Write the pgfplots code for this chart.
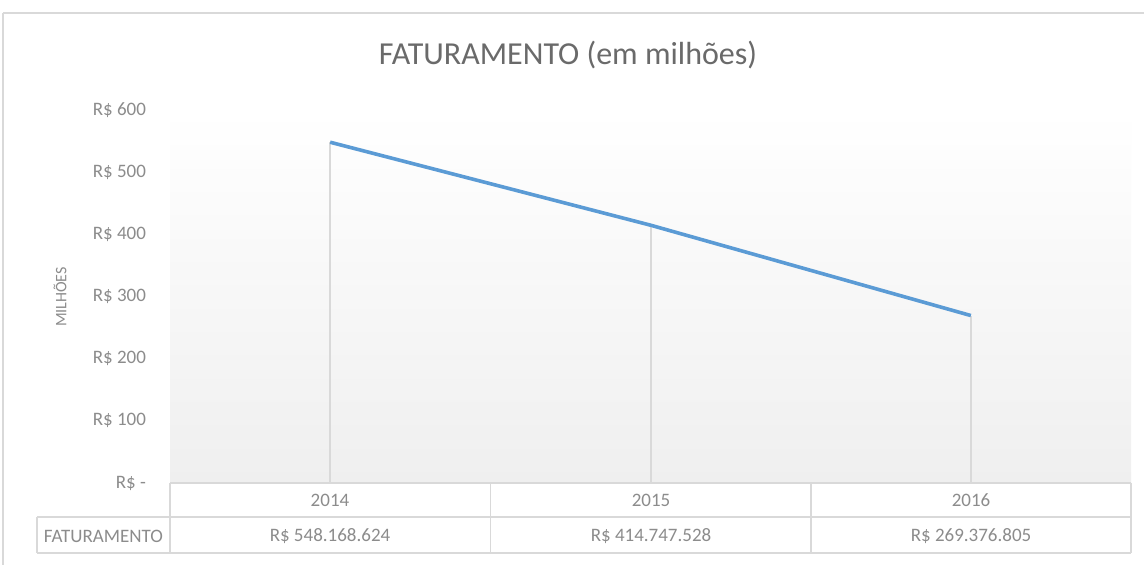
\documentclass[border=0pt]{standalone}
\usepackage{pgfplots}
\pgfplotsset{compat=1.18}
\usepackage{fontspec}
\setmainfont{Carlito}
\definecolor{linecol}{HTML}{5B9BD5}
\definecolor{titlecol}{HTML}{6A6A6A}
\definecolor{tickcol}{HTML}{8C8C8C}
\definecolor{gridcol}{HTML}{D9D9D9}
\definecolor{bgbottom}{HTML}{EFEFEF}
\begin{document}
\begin{tikzpicture}
\useasboundingbox (0pt,0pt) rectangle (572pt,-282.5pt);
\fill[white] (0pt,0pt) rectangle (572pt,-282.5pt);
\begin{axis}[
  at={(85pt,-241.5pt)}, anchor=south west,
  scale only axis, width=480.5pt, height=186.5pt,
  xmin=-0.5, xmax=2.5, ymin=0, ymax=600,
  xtick=\empty,
  ytick={0,100,200,300,400,500,600},
  yticklabels={R\$ -\hspace{4pt}, R\$ 100, R\$ 200, R\$ 300, R\$ 400, R\$ 500, R\$ 600},
  yticklabel style={font=\fontsize{9.5}{11}\selectfont, text=tickcol, xshift=-8.5pt},
  major tick length=0pt,
  axis line style={draw=none},
  axis background/.style={top color=white, bottom color=bgbottom},
  clip=false,
]
\addplot[ycomb, draw=gridcol, line width=1pt, mark=none] coordinates {(0,548.168624) (1,414.747528) (2,269.376805)};
\addplot[draw=linecol, line width=1.8pt, mark=none, line join=round] coordinates {(0,548.168624) (1,414.747528) (2,269.376805)};
\end{axis}
\begin{scope}[x=0.5pt,y=-0.5pt]
  % outer chart border
  \draw[gridcol, line width=1pt] (3,13) -- (1144,13);
  \draw[gridcol, line width=1pt] (3,13) -- (3,565);
  % title
  \node[font=\fontsize{16}{19}\selectfont, text=titlecol] at (568,55) {FATURAMENTO (em milhões)};
  % y label
  \node[font=\fontsize{8}{10}\selectfont, text=tickcol, rotate=90] at (60,297) {MILHÕES};
  % data table
  \draw[gridcol, line width=0.8pt] (170,483) -- (1131,483);
  \draw[gridcol, line width=0.8pt] (37,517) -- (1131,517);
  \draw[gridcol, line width=0.8pt] (37,553) -- (1131,553);
  \draw[gridcol, line width=0.8pt] (37,517) -- (37,553);
  \foreach \xx in {170,490.3,810.7,1131} {\draw[gridcol, line width=0.8pt] (\xx,483) -- (\xx,553);}
  \begin{scope}[every node/.style={font=\fontsize{9.5}{11}\selectfont, text=tickcol}]
    \node at (330,500) {2014};
    \node at (651,500) {2015};
    \node at (971,500) {2016};
    \node at (103.5,536) {FATURAMENTO};
    \node at (330,536) {R\$ 548.168.624};
    \node at (651,536) {R\$ 414.747.528};
    \node at (971,536) {R\$ 269.376.805};
  \end{scope}
\end{scope}
\end{tikzpicture}
\end{document}
